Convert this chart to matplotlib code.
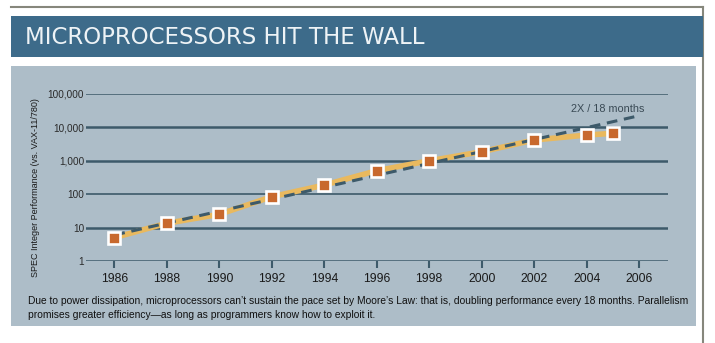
import matplotlib
matplotlib.use("Agg")
import matplotlib.pyplot as plt
from matplotlib.patches import Rectangle
from matplotlib.lines import Line2D

# data
years = [1986, 1988, 1990, 1992, 1994, 1996, 1998, 2000, 2002, 2004, 2005]
perf = [5, 13.5, 25, 84, 188, 505, 1000, 1870, 4200, 5900, 6650]
trend_years = [1986, 2006]
trend_perf = [6, 22400]
xticks = [1986, 1988, 1990, 1992, 1994, 1996, 1998, 2000, 2002, 2004, 2006]
yticks = [1, 10, 100, 1000, 10000, 100000]
ytick_labels = ["1", "10", "100", "1,000", "10,000", "100,000"]

title = "MICROPROCESSORS HIT THE WALL"
ylabel = "SPEC Integer Performance (vs. VAX-11/780)"
trend_label = "2X / 18 months"
caption = ("Due to power dissipation, microprocessors can\u2019t sustain the pace set by Moore\u2019s Law: "
           "that is, doubling performance every 18 months. Parallelism\n"
           "promises greater efficiency\u2014as long as programmers know how to exploit it.")

W, H = 715, 343
FONT = ["Liberation Sans", "DejaVu Sans"]
dark = "#3d5a6a"
panel_c = "#adbdc8"
banner_c = "#3d6b8a"
border_c = "#86877c"

fig = plt.figure(figsize=(W / 100, H / 100), dpi=100)
fig.patch.set_facecolor("white")


def fx(px):
    return px / W


def fy(py):
    return 1 - py / H


# frame, banner, panel (behind the axes)
fig.add_artist(Line2D([fx(11), fx(703)], [fy(7), fy(7)], color=border_c, lw=1.5, zorder=-2))
fig.add_artist(Line2D([fx(703), fx(703)], [fy(7), fy(343)], color=border_c, lw=1.5, zorder=-2))
fig.add_artist(Rectangle((fx(11), fy(57)), fx(703) - fx(11), fy(16) - fy(57),
                         transform=fig.transFigure, color=banner_c, lw=0, zorder=-2))
fig.add_artist(Rectangle((fx(11), fy(326)), fx(696) - fx(11), fy(66) - fy(326),
                         transform=fig.transFigure, color=panel_c, lw=0, zorder=-2))
fig.text(fx(25), fy(37), title, color="#eef3f6", fontsize=16.5, va="center", ha="left",
         family="DejaVu Sans")

# plot area
ax = fig.add_axes([fx(85.5), fy(261), fx(668) - fx(85.5), fy(94) - fy(261)])
ax.set_facecolor("none")
ax.set_yscale("log")
ax.set_ylim(1, 100000)
ax.set_xlim(1984.9, 2007.1)

# horizontal rules, some a bit lighter as in the original
rule_widths = [1.8, 1.8, 1.2, 1.8, 1.8, 1.1]
for yv, w in zip(yticks, rule_widths):
    ax.axhline(yv, color=dark, lw=w, zorder=1)

ax.plot(years, perf, color="#e9b95e", lw=4, solid_joinstyle="round",
        solid_capstyle="round", zorder=2)
ax.plot(trend_years, trend_perf, color=dark, lw=2.2, dashes=(3.5, 2.2), zorder=3)
ax.plot(years, perf, ls="none", marker="s", markersize=9, markerfacecolor="#c8692e",
        markeredgecolor="white", markeredgewidth=1.9, zorder=4)

ax.text(2004.8, 25000, trend_label, color="#3a4a55", fontsize=7.8, ha="center",
        va="bottom", family=FONT)

for s in ax.spines.values():
    s.set_visible(False)

ax.set_yticks(yticks)
ax.set_yticklabels(ytick_labels, family=FONT, fontsize=7.2, color="#2a2a2a")
ax.yaxis.set_minor_locator(matplotlib.ticker.NullLocator())
ax.tick_params(axis="y", length=0, pad=1)

ax.set_xticks(xticks)
ax.set_xticklabels([str(x) for x in xticks], family=FONT, fontsize=8.8, color="#1a1a1a")
ax.tick_params(axis="x", length=5, width=1.5, color=dark, pad=3.5, direction="out")

fig.text(fx(36), fy(188), ylabel, rotation=90, ha="center", va="center",
         fontsize=6.5, color="#1a1a1a", family=FONT)

fig.text(fx(28), fy(308.5), caption, ha="left", va="center", fontsize=7.35,
         color="#111111", family=FONT, linespacing=1.5)

fig.savefig("out.png", dpi=100, facecolor="white")
